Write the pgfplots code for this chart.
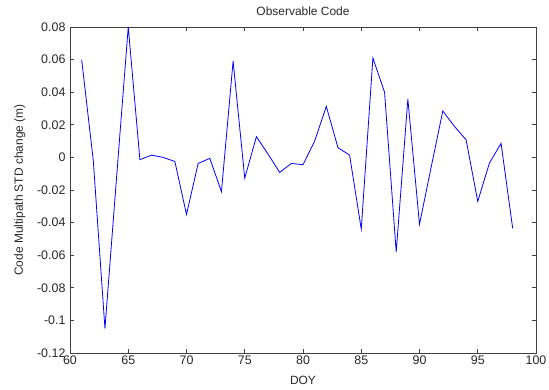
\documentclass[border=0pt]{standalone}
\usepackage{pgfplots}
\pgfplotsset{compat=1.18}
\usepackage{fontspec}
\setmainfont{Liberation Sans}
\definecolor{axgray}{RGB}{64,64,64}
\definecolor{txtgray}{RGB}{40,40,40}
\begin{document}
\begin{tikzpicture}[x=1bp,y=1bp]
\useasboundingbox (0,0) rectangle (549,389);
\begin{axis}[
  at={(70bp,36bp)}, anchor=south west,
  scale only axis, width=466bp, height=326bp,
  xmin=60, xmax=100, ymin=-0.12, ymax=0.08,
  xtick={60,65,...,100},
  ytick={-0.12,-0.1,-0.08,-0.06,-0.04,-0.02,0,0.02,0.04,0.06,0.08},
  yticklabels={-0.12,-0.1,-0.08,-0.06,-0.04,-0.02,0,0.02,0.04,0.06,0.08},
  scaled y ticks=false,
  tick align=inside, major tick length=4bp,
  axis line style={axgray, line width=0.9bp},
  every tick/.style={axgray, line width=0.8bp},
  tick label style={font=\fontsize{12.5}{13}\selectfont, text=txtgray},
  /pgf/number format/assume math mode=true,
  xticklabel style={yshift=1bp},
  yticklabel style={xshift=-1bp},
  title={Observable Code},
  title style={font=\fontsize{12}{13}\selectfont, text=txtgray, yshift=2bp},
  xlabel={DOY},
  ylabel={Code Multipath STD change (m)},
  label style={font=\fontsize{12}{13}\selectfont, text=txtgray},
  xlabel style={yshift=-5bp},
  ylabel style={yshift=5bp},
]
\addplot[color={rgb,255:red,0;green,0;blue,255}, line width=0.8bp] coordinates {
(61,0.060) (62,-0.002) (63,-0.105) (64,-0.012) (65,0.080) (66,-0.0014) (67,0.0014)
(68,0.0) (69,-0.0025) (70,-0.035) (71,-0.0037) (72,-0.0006) (73,-0.021) (74,0.059)
(75,-0.0127) (76,0.0127) (77,0.002) (78,-0.0092) (79,-0.0037) (80,-0.0045) (81,0.010)
(82,0.0313) (83,0.006) (84,0.0014) (85,-0.044) (86,0.0610) (87,0.040) (88,-0.058)
(89,0.0358) (90,-0.041) (91,-0.006) (92,0.0285) (93,0.019) (94,0.0108) (95,-0.027)
(96,-0.0035) (97,0.0086) (98,-0.0436)
};
\end{axis}
\end{tikzpicture}
\end{document}
